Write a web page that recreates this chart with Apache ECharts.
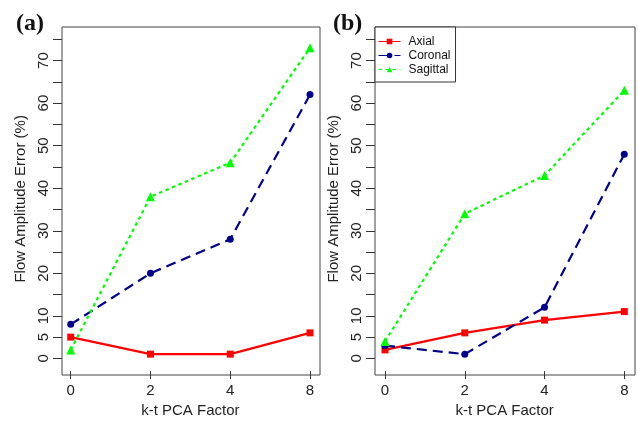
<!DOCTYPE html>
<html><head><meta charset="utf-8">
<script src="https://cdn.jsdelivr.net/npm/echarts@6/dist/echarts.min.js"></script>
<style>html,body{margin:0;padding:0;background:#fff}#c{width:638px;height:423px}</style>
</head><body><div id="c"></div>
<script>
const categories = ['0', '2', '4', '8'];
const yTicksLabeled = [0, 5, 10, 20, 30, 40, 50, 60, 70];
const seriesNames = ['Axial', 'Coronal', 'Sagittal'];
const axialA = [5, 1, 1, 6];
const coronalA = [8, 20, 28, 62];
const sagittalA = [2, 38, 46, 73];
const axialB = [2, 6, 9, 11];
const coronalB = [3, 1, 12, 48];
const sagittalB = [4, 34, 43, 63];

const FONT = 'Liberation Sans, Arial, sans-serif';
const dataGrids = [
  {left: 70.7, top: 39.3, width: 239.3, height: 323},
  {left: 385, top: 39.3, width: 239.3, height: 323}
];
const boxGrids = [
  {left: 62, top: 27, width: 258, height: 348},
  {left: 375, top: 27, width: 260, height: 348}
];
const toPts = arr => arr.map((v, i) => [i, v]);

const styles = {
  Axial: {color: '#ff0000', type: 'solid', symbol: 'rect', size: 7},
  Coronal: {color: '#00008b', type: [10, 6], symbol: 'circle', size: 7},
  Sagittal: {color: '#00ff00', type: [3.5, 3.5], symbol: 'triangle', size: 9}
};
function mk(name, data, idx) {
  const s = styles[name];
  return {
    name, type: 'line', xAxisIndex: idx, yAxisIndex: idx, data: toPts(data),
    symbol: s.symbol, symbolSize: s.size, showSymbol: true,
    lineStyle: {color: s.color, width: 2.2, type: s.type},
    itemStyle: {color: s.color},
    animation: false
  };
}

const grids = [], xAxes = [], yAxes = [];
for (let p = 0; p < 2; p++) {
  grids.push(Object.assign({containLabel: false}, dataGrids[p]));
  xAxes.push({
    type: 'value', gridIndex: p, min: 0, max: 3, interval: 1,
    position: 'bottom', offset: (boxGrids[p].top + boxGrids[p].height) - (dataGrids[p].top + dataGrids[p].height),
    axisLine: {show: false, onZero: false}, splitLine: {show: false},
    axisTick: {show: true, length: 8, lineStyle: {color: '#333', width: 1}},
    axisLabel: {fontFamily: FONT, fontSize: 15, color: '#222', margin: 12,
      formatter: v => categories[v] !== undefined ? categories[v] : ''},
    name: 'k-t PCA Factor', nameLocation: 'middle', nameGap: 31,
    nameTextStyle: {fontFamily: FONT, fontSize: 15, color: '#222'}
  });
  yAxes.push({
    type: 'value', gridIndex: p, min: 0, max: 75, interval: 5,
    position: 'left', offset: dataGrids[p].left - boxGrids[p].left,
    axisLine: {show: false, onZero: false}, splitLine: {show: false},
    axisTick: {show: true, length: 9, lineStyle: {color: '#333', width: 1}},
    axisLabel: {fontFamily: FONT, fontSize: 15, color: '#222', rotate: 90, margin: 11,
      formatter: v => yTicksLabeled.indexOf(v) >= 0 ? String(v) : ''},
    name: 'Flow Amplitude Error (%)', nameLocation: 'middle', nameGap: 34,
    nameTextStyle: {fontFamily: FONT, fontSize: 15, color: '#222'}
  });
}
for (let p = 0; p < 2; p++) {
  grids.push(Object.assign({show: true, borderColor: '#444', borderWidth: 1, backgroundColor: 'transparent'}, boxGrids[p]));
  xAxes.push({type: 'value', gridIndex: 2 + p, show: false, min: 0, max: 1});
  yAxes.push({type: 'value', gridIndex: 2 + p, show: false, min: 0, max: 1});
}

const option = {
  backgroundColor: '#fff',
  animation: false,
  title: [
    {text: '(a)', left: 11, top: 7, textStyle: {fontFamily: 'Liberation Serif, Times New Roman, serif', fontWeight: 'bold', fontSize: 24, color: '#111'}},
    {text: '(b)', left: 328, top: 7, textStyle: {fontFamily: 'Liberation Serif, Times New Roman, serif', fontWeight: 'bold', fontSize: 24, color: '#111'}}
  ],
  legend: {
    data: seriesNames, orient: 'vertical', left: 375, top: 27,
    itemWidth: 22, itemHeight: 7, itemGap: 1,
    padding: [8, 5, 6, 3],
    borderColor: '#333', borderWidth: 1, backgroundColor: '#fff',
    textStyle: {fontFamily: FONT, fontSize: 12, color: '#111', padding: [0, 0, 0, 3], height: 13, lineHeight: 13},
    itemStyle: {borderWidth: 0},
    lineStyle: {width: 1}
  },
  grid: grids, xAxis: xAxes, yAxis: yAxes,
  series: [
    mk('Axial', axialA, 0), mk('Coronal', coronalA, 0), mk('Sagittal', sagittalA, 0),
    mk('Axial', axialB, 1), mk('Coronal', coronalB, 1), mk('Sagittal', sagittalB, 1)
  ]
};
const chart = echarts.init(document.getElementById('c'), null, {renderer: 'canvas'});
chart.setOption(option);
</script></body></html>
